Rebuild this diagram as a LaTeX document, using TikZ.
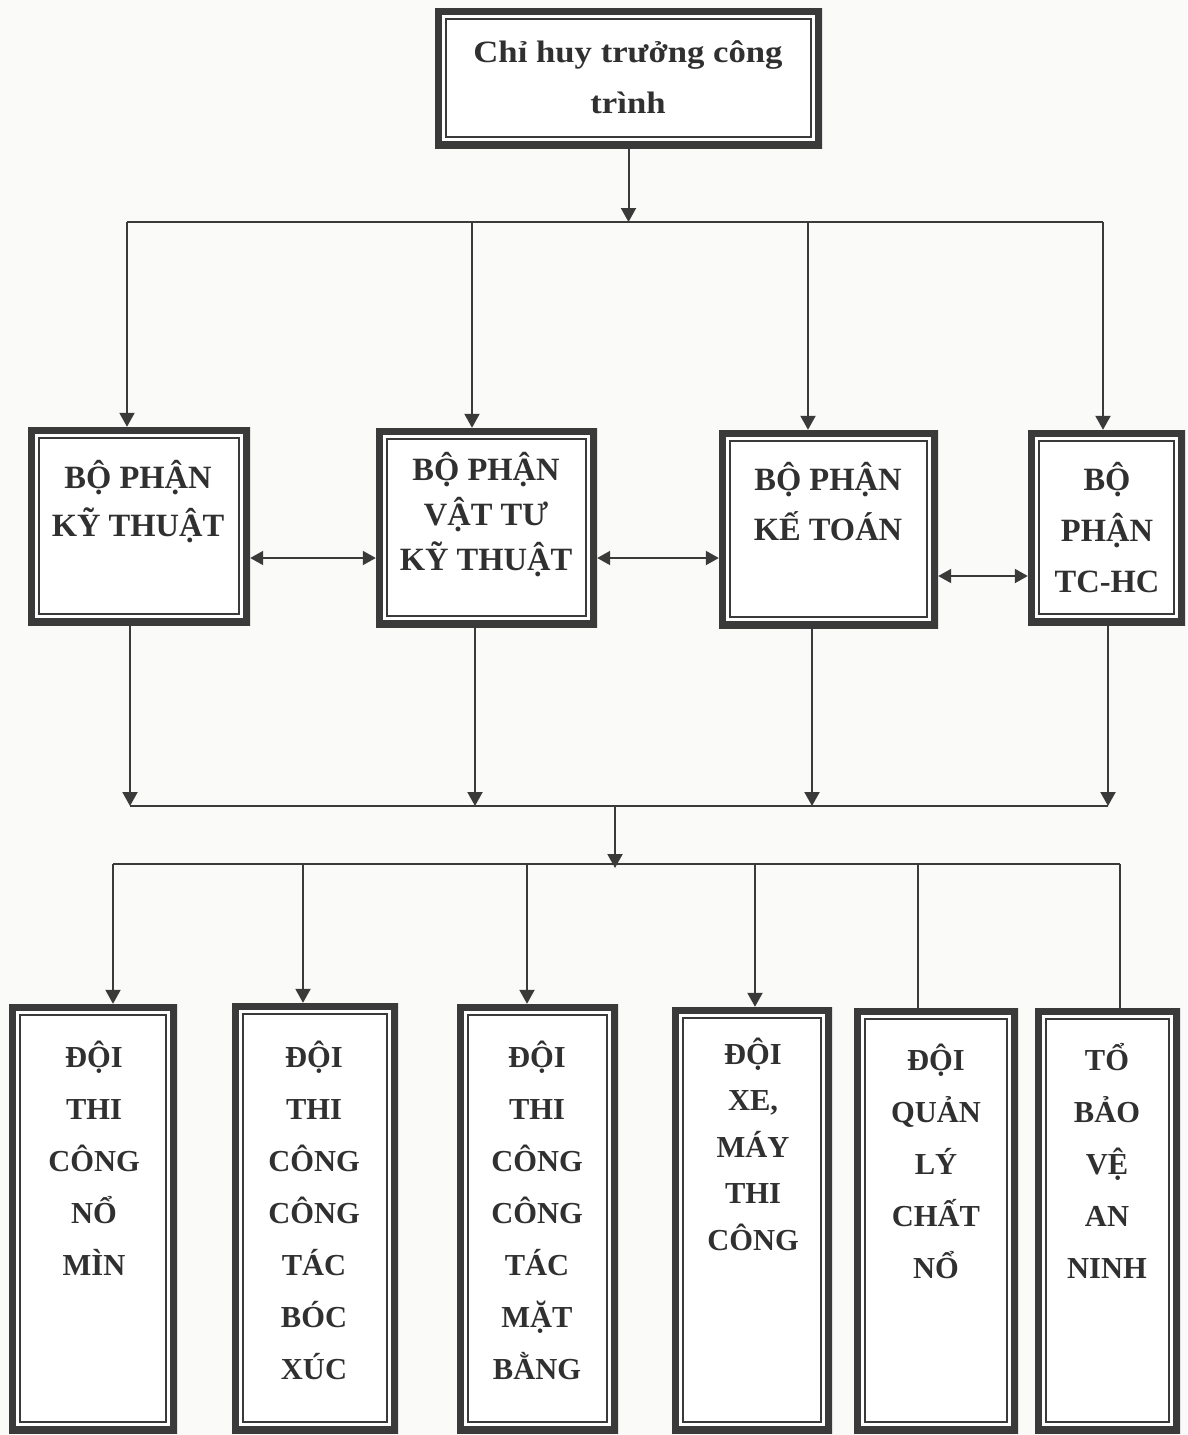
\documentclass[tikz,border=0pt]{standalone}
\usepackage{fontspec}
\setmainfont{Liberation Serif}
\newfontfamily\widefont[FakeStretch=1.12]{Liberation Serif}
\usetikzlibrary{arrows.meta,fit}
\definecolor{ink}{HTML}{3A3A3A}
\definecolor{txt}{HTML}{303030}
\definecolor{paper}{HTML}{FAFAF8}
\begin{document}
\begin{tikzpicture}[x=1pt,y=-1pt,
  dbox/.style={inner sep=0pt, fill=white,
    path picture={
      \draw[ink, line width=14pt] (path picture bounding box.north west) rectangle (path picture bounding box.south east);
      \draw[ink, line width=1.8pt] ([xshift=11pt,yshift=-11pt]path picture bounding box.north west) rectangle ([xshift=-11pt,yshift=11pt]path picture bounding box.south east);
    }},
  lab/.style={inner sep=0pt, anchor=north, align=center, text=txt},
  topfont/.style={font=\widefont\bfseries\fontsize{31}{51}\selectfont},
  midfont/.style={font=\bfseries\fontsize{32.5}{#1}\selectfont},
  lowfont/.style={font=\bfseries\fontsize{30.5}{#1}\selectfont},
  con/.style={draw=ink, line width=2pt},
  arr/.style={con, -{Triangle[length=14pt,width=15pt]}},
  darr/.style={con, {Triangle[length=13pt,width=14pt]}-{Triangle[length=13pt,width=14pt]}}
]
\fill[paper] (0,0) rectangle (1187,1435);
\useasboundingbox (0,0) rectangle (1187,1435);

% boxes
\node[dbox, fit={(435,8) (822,148)}] (top) {};
\node[dbox, fit={(28,427) (250,625)}] (b1) {};
\node[dbox, fit={(376,428) (597,627)}] (b2) {};
\node[dbox, fit={(719,430) (938,628)}] (b3) {};
\node[dbox, fit={(1028,430) (1185,625)}] (b4) {};
\node[dbox, fit={(9,1004) (177,1433)}] (c1) {};
\node[dbox, fit={(232,1003) (398,1433)}] (c2) {};
\node[dbox, fit={(457,1004) (618,1433)}] (c3) {};
\node[dbox, fit={(672,1007) (832,1433)}] (c4) {};
\node[dbox, fit={(854,1008) (1018,1433)}] (c5) {};
\node[dbox, fit={(1035,1008) (1180,1433)}] (c6) {};

% texts
\node[lab, topfont] (ttop) at (628,31) {\rule{0pt}{31pt}Chỉ huy trưởng công\\trình};
\node[lab, midfont=48] (tb1) at (138,456) {\rule{0pt}{32pt}BỘ PHẬN\\KỸ THUẬT};
\node[lab, midfont=45] (tb2) at (486,448) {\rule{0pt}{32pt}BỘ PHẬN\\VẬT TƯ\\KỸ THUẬT};
\node[lab, midfont=50] (tb3) at (828,458) {\rule{0pt}{32pt}BỘ PHẬN\\KẾ TOÁN};
\node[lab, midfont=51] (tb4) at (1107,458) {\rule{0pt}{32pt}BỘ\\PHẬN\\TC-HC};
\node[lab, lowfont=52] (tc1) at (94,1037) {\rule{0pt}{30pt}ĐỘI\\THI\\CÔNG\\NỔ\\MÌN};
\node[lab, lowfont=52] (tc2) at (314,1037) {\rule{0pt}{30pt}ĐỘI\\THI\\CÔNG\\CÔNG\\TÁC\\BÓC\\XÚC};
\node[lab, lowfont=52] (tc3) at (537,1037) {\rule{0pt}{30pt}ĐỘI\\THI\\CÔNG\\CÔNG\\TÁC\\MẶT\\BẰNG};
\node[lab, lowfont=46.5] (tc4) at (753,1034) {\rule{0pt}{30pt}ĐỘI\\XE,\\MÁY\\THI\\CÔNG};
\node[lab, lowfont=52] (tc5) at (936,1040) {\rule{0pt}{30pt}ĐỘI\\QUẢN\\LÝ\\CHẤT\\NỔ};
\node[lab, lowfont=52] (tc6) at (1107,1040) {\rule{0pt}{30pt}TỔ\\BẢO\\VỆ\\AN\\NINH};

% top bus
\coordinate (k1) at (127,222);
\coordinate (k2) at (472,222);
\coordinate (k3) at (808,222);
\coordinate (k4) at (1103,222);
\draw[arr] (top.south) -- (top.south |- k1);
\draw[con] (k1) -- (k4);
\draw[arr] (k1) -- (k1 |- b1.north);
\draw[arr] (k2) -- (k2 |- b2.north);
\draw[arr] (k3) -- (k3 |- b3.north);
\draw[arr] (k4) -- (k4 |- b4.north);

% horizontal links
\coordinate (h1) at (0,558);
\coordinate (h2) at (0,576);
\draw[darr] (b1.east |- h1) -- (b2.west |- h1);
\draw[darr] (b2.east |- h1) -- (b3.west |- h1);
\draw[darr] (b3.east |- h2) -- (b4.west |- h2);

% middle bus
\coordinate (u1) at (130,806);
\coordinate (u2) at (475,806);
\coordinate (u3) at (812,806);
\coordinate (u4) at (1108,806);
\draw[arr] (b1.south -| u1) -- (u1);
\draw[arr] (b2.south -| u2) -- (u2);
\draw[arr] (b3.south -| u3) -- (u3);
\draw[arr] (b4.south -| u4) -- (u4);
\draw[con] (u1) -- (u4);
\coordinate (m2) at (615,806);
\coordinate (m3) at (615,868);
\draw[arr] (m2) -- (m3);

% lower bus
\coordinate (v1) at (113,864);
\coordinate (v2) at (303,864);
\coordinate (v3) at (527,864);
\coordinate (v4) at (755,864);
\coordinate (v5) at (918,864);
\coordinate (v6) at (1120,864);
\draw[con] (v1) -- (v6);
\draw[arr] (v1) -- (v1 |- c1.north);
\draw[arr] (v2) -- (v2 |- c2.north);
\draw[arr] (v3) -- (v3 |- c3.north);
\draw[arr] (v4) -- (v4 |- c4.north);
\draw[con] (v5) -- (v5 |- c5.north);
\draw[con] (v6) -- (v6 |- c6.north);
\end{tikzpicture}
\end{document}
